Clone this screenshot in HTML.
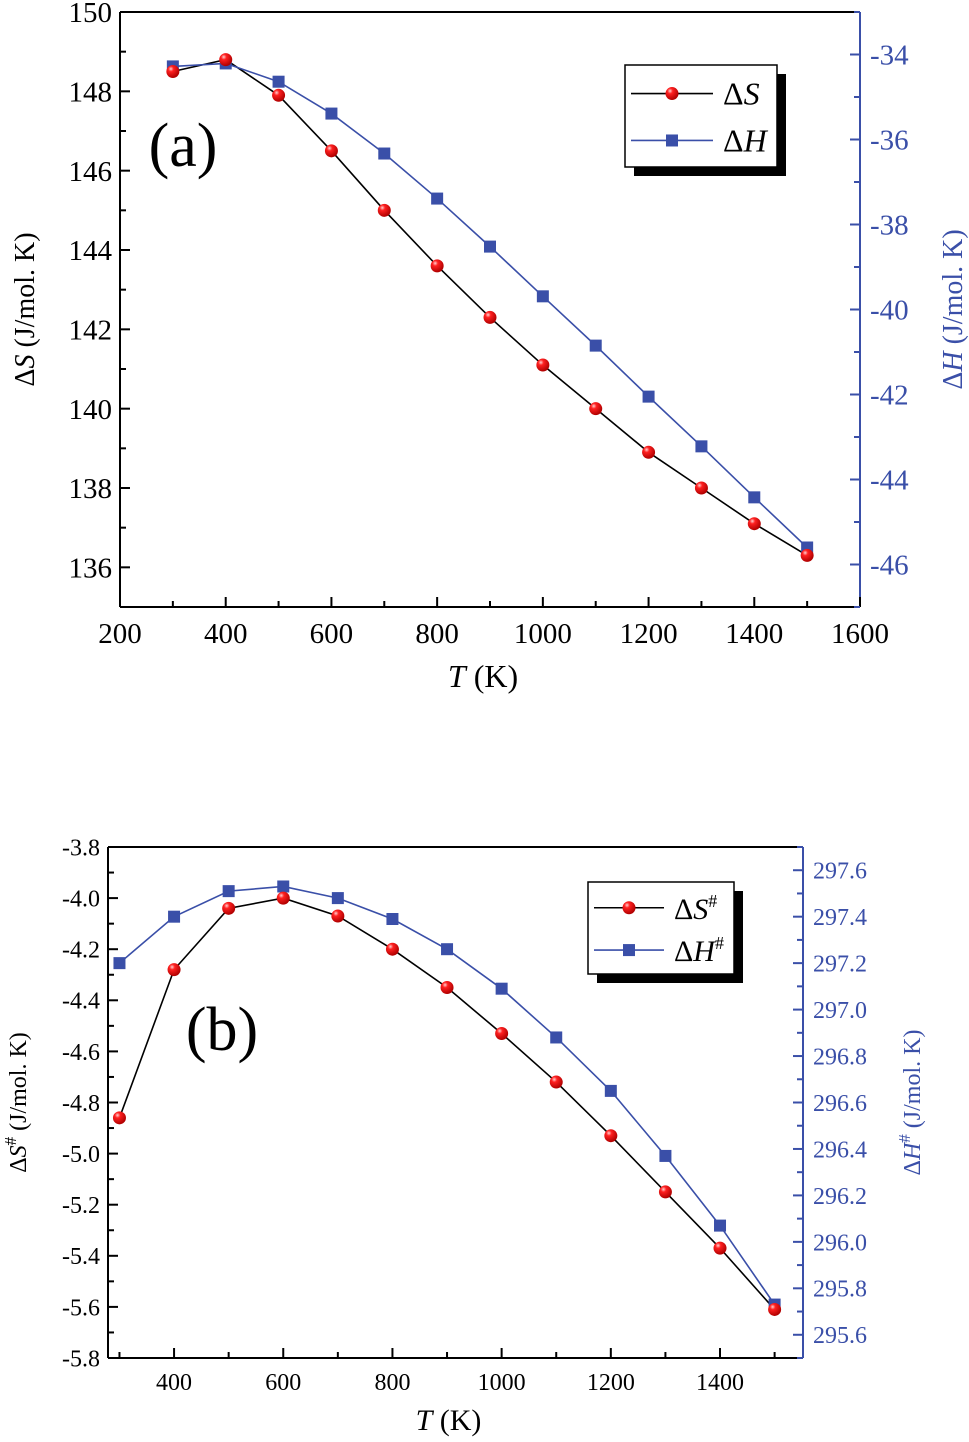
<!DOCTYPE html>
<html><head><meta charset="utf-8"><style>
body{margin:0;background:#fff}
svg text{font-family:"Liberation Serif",serif}
</style></head><body>
<svg id="c" width="969" height="1437" viewBox="0 0 969 1437" xmlns="http://www.w3.org/2000/svg"></svg>
<script>
const tempsA=[300,400,500,600,700,800,900,1000,1100,1200,1300,1400,1500];
const dS=[148.5,148.8,147.9,146.5,145.0,143.6,142.3,141.1,140.0,138.9,138.0,137.1,136.3];
const dH=[-34.28,-34.21,-34.64,-35.39,-36.33,-37.39,-38.52,-39.69,-40.85,-42.05,-43.22,-44.42,-45.6];
const tempsB=[300,400,500,600,700,800,900,1000,1100,1200,1300,1400,1500];
const dSs=[-4.86,-4.28,-4.04,-4.00,-4.07,-4.20,-4.35,-4.53,-4.72,-4.93,-5.15,-5.37,-5.61];
const dHs=[297.20,297.40,297.51,297.53,297.48,297.39,297.26,297.09,296.88,296.65,296.37,296.07,295.73];
const xTicksA=["200","400","600","800","1000","1200","1400","1600"];
const yLTicksA=["136","138","140","142","144","146","148","150"];
const yRTicksA=["-46","-44","-42","-40","-38","-36","-34"];
const xTicksB=["400","600","800","1000","1200","1400"];
const yLTicksB=["-5.8","-5.6","-5.4","-5.2","-5.0","-4.8","-4.6","-4.4","-4.2","-4.0","-3.8"];
const yRTicksB=["295.6","295.8","296.0","296.2","296.4","296.6","296.8","297.0","297.2","297.4","297.6"];

const svg=document.getElementById('c');const NS='http://www.w3.org/2000/svg';
const BLUE='#3a4fa8';
function el(t,a,p){const e=document.createElementNS(NS,t);for(const k in a)e.setAttribute(k,a[k]);(p||svg).appendChild(e);return e;}
function txt(s,x,y,size,fill,anchor,p){const t=el('text',{x:x,y:y,'font-size':size,fill:fill,'text-anchor':anchor||'middle'},p);t.innerHTML=s;return t;}
const defs=el('defs',{});
const g=el('radialGradient',{id:'rb',cx:'0.35',cy:'0.3',r:'0.7'},defs);
el('stop',{offset:'0','stop-color':'#ffd0d0'},g);el('stop',{offset:'0.3','stop-color':'#ff2020'},g);el('stop',{offset:'1','stop-color':'#b00000'},g);

function panel(o){
  const G=el('g',{});
  
  
  const X=v=>o.x0+(v-o.xmin)/(o.xmax-o.xmin)*(o.x1-o.x0);
  const YL=v=>o.y1-(v-o.lmin)/(o.lmax-o.lmin)*(o.y1-o.y0);
  const YR=v=>o.y1-(v-o.rmin)/(o.rmax-o.rmin)*(o.y1-o.y0);
  el('line',{x1:o.x0,y1:o.y0,x2:o.x1,y2:o.y0,stroke:'#000','stroke-width':2},G);
  el('line',{x1:o.x0,y1:o.y1,x2:o.x1,y2:o.y1,stroke:'#000','stroke-width':2},G);
  el('line',{x1:o.x0,y1:o.y0,x2:o.x0,y2:o.y1,stroke:'#000','stroke-width':2},G);
  el('line',{x1:o.x1,y1:o.y0,x2:o.x1,y2:o.y1,stroke:BLUE,'stroke-width':2},G);
  for(let v=Math.ceil(o.xmin/o.xminor)*o.xminor;v<=o.xmax;v+=o.xminor){
    const maj=v%o.xmajor===0;const x=X(v);
    el('line',{x1:x,y1:o.y1,x2:x,y2:o.y1-(maj?10:6),stroke:'#000','stroke-width':2},G);
  }
  o.xt.forEach(s=>{const t=txt(s,X(+s),o.y1+o.xly,o.fs,'#000','middle',G);});
  const nl=Math.round((o.lmax-o.lmin)/o.lminor);
  for(let i=0;i<=nl;i++){const v=o.lmin+i*o.lminor;const y=YL(v);const maj=Math.abs(Math.round(v/o.lmajor)*o.lmajor-v)<1e-6;
    el('line',{x1:o.x0,y1:y,x2:o.x0+(maj?10:6),y2:y,stroke:'#000','stroke-width':2},G);}
  o.lt.forEach(s=>{const t=txt(s,o.x0-8,YL(+s)+o.fs*0.35,o.fs,'#000','end',G);});
  const nr=Math.round((o.rmax-o.rmin)/o.rminor);
  for(let i=0;i<=nr;i++){const v=o.rmin+i*o.rminor;const y=YR(v);const maj=Math.abs(Math.round(v/o.rmajor)*o.rmajor-v)<1e-6;
    el('line',{x1:o.x1,y1:y,x2:o.x1-(maj?10:6),y2:y,stroke:BLUE,'stroke-width':2},G);}
  o.rt.forEach(s=>{const t=txt(s,o.x1+10,YR(+s)+o.fs*0.35,o.fs,BLUE,'start',G);});
  const pS=o.xs.map((x,i)=>X(x)+','+YL(o.s[i])).join(' ');
  const lS=el('polyline',{points:pS,fill:'none',stroke:'#000','stroke-width':1.6},G);
  
  const pH=o.xs.map((x,i)=>X(x)+','+YR(o.h[i])).join(' ');
  const lH=el('polyline',{points:pH,fill:'none',stroke:BLUE,'stroke-width':1.6},G);
  
  o.xs.forEach((x,i)=>{
    const m=el('rect',{x:X(x)-6,y:YR(o.h[i])-6,width:12,height:12,fill:BLUE},G);
    
  });
  o.xs.forEach((x,i)=>{
    const c=el('circle',{cx:X(x),cy:YL(o.s[i]),r:6.5,fill:'url(#rb)'},G);
    
  });
  const L=o.leg;const lg=el('g',{},G);
  
  el('rect',{x:L.x+9,y:L.y+9,width:L.w,height:L.h,fill:'#000'},lg);
  el('rect',{x:L.x,y:L.y,width:L.w,height:L.h,fill:'#fff',stroke:'#000','stroke-width':1.5},lg);
  const r1=L.y+L.h*0.28,r2=L.y+L.h*0.74;
  el('line',{x1:L.x+6,y1:r1,x2:L.x+L.lw,y2:r1,stroke:'#000','stroke-width':1.6},lg);
  el('circle',{cx:L.x+L.lw/2+3,cy:r1,r:6.5,fill:'url(#rb)'},lg);
  el('line',{x1:L.x+6,y1:r2,x2:L.x+L.lw,y2:r2,stroke:BLUE,'stroke-width':1.6},lg);
  el('rect',{x:L.x+L.lw/2-3,y:r2-6,width:12,height:12,fill:BLUE},lg);
  const t1=txt(L.t1,L.x+L.lw+10,r1+11,L.fs,'#000','start',lg);
  const t2=txt(L.t2,L.x+L.lw+10,r2+11,L.fs,'#000','start',lg);
  const pl=txt(o.lab[0],o.lab[1],o.lab[2],62,'#000','middle',G);
  const xt=txt('<tspan font-style="italic">T</tspan> (K)',(o.x0+o.x1)/2+o.xtoff,o.y1+o.xty,o.xts,'#000','middle',G);
  
  const yc=(o.y0+o.y1)/2;
  const yl=txt(o.ylt,0,0,o.yts,'#000','middle',G);yl.setAttribute('transform',`translate(${o.ylx},${yc}) rotate(-90)`);
  
  const yr=txt(o.yrt,0,0,o.yts,BLUE,'middle',G);yr.setAttribute('transform',`translate(${o.yrx},${yc}) rotate(-90)`);
  
}
panel({name:'panel-a',x0:120,x1:860,y0:12,y1:607,xmin:200,xmax:1600,xmajor:200,xminor:100,
  lmin:135,lmax:150,lmajor:2,lminor:1,rmin:-47,rmax:-33,rmajor:2,rminor:1,fs:29,xly:36,
  xs:tempsA,s:dS,h:dH,xt:xTicksA,lt:yLTicksA,rt:yRTicksA,xtoff:-7,xty:80,xts:32,
  leg:{x:625,y:65,w:152,h:102,lw:88,fs:32,t1:'Δ<tspan font-style="italic">S</tspan>',t2:'Δ<tspan font-style="italic">H</tspan>'},
  lab:['(a)',183,166],ylt:'Δ<tspan font-style="italic">S</tspan> (J/mol. K)',yrt:'Δ<tspan font-style="italic">H</tspan> (J/mol. K)',yts:28,ylx:34,yrx:962});
panel({name:'panel-b',x0:108,x1:803,y0:847,y1:1358,xmin:279,xmax:1552,xmajor:200,xminor:100,
  lmin:-5.8,lmax:-3.8,lmajor:0.2,lminor:0.1,rmin:295.5,rmax:297.7,rmajor:0.2,rminor:0.1,fs:24,xly:32,
  xs:tempsB,s:dSs,h:dHs,xt:xTicksB,lt:yLTicksB,rt:yRTicksB,xtoff:-7,xty:72,xts:30,
  leg:{x:588,y:882,w:146,h:92,lw:76,fs:30,t1:'Δ<tspan font-style="italic">S</tspan><tspan dy="-12" font-size="18">#</tspan>',t2:'Δ<tspan font-style="italic">H</tspan><tspan dy="-12" font-size="18">#</tspan>'},
  lab:['(b)',222,1050],ylt:'Δ<tspan font-style="italic">S</tspan><tspan dy="-10" font-size="17">#</tspan><tspan dy="10"> (J/mol. K)</tspan>',yrt:'Δ<tspan font-style="italic">H</tspan><tspan dy="-10" font-size="17">#</tspan><tspan dy="10"> (J/mol. K)</tspan>',yts:24,ylx:26,yrx:920});
</script>
</body></html>
